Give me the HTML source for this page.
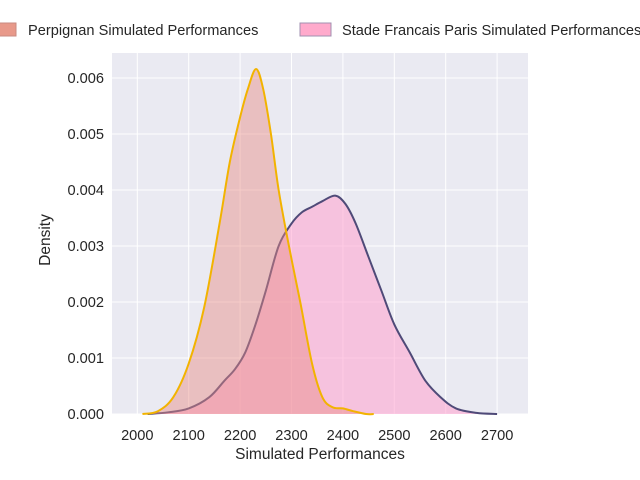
<!DOCTYPE html>
<html><head><meta charset="utf-8"><style>
body{margin:0;background:#fff;}
svg{display:block;font-family:"Liberation Sans",Arial,sans-serif;}
</style></head><body>
<svg id="chart" width="640" height="480" viewBox="0 0 640 480" xmlns="http://www.w3.org/2000/svg">
<rect x="112" y="53" width="416" height="361" fill="#eaeaf2"/>
<g id="grid"></g>
<g id="marks"></g>
<g id="ticks"></g>
<text x="320" y="459" text-anchor="middle" font-size="15.5" fill="#262626">Simulated Performances</text>
<text x="50" y="240" text-anchor="middle" font-size="15.5" fill="#262626" transform="rotate(-90 50 240)">Density</text>
<g>
<rect x="-12" y="23" width="28" height="13" fill="#e8998a" stroke="#c98a80"/>
<text x="28" y="35" font-size="14.6" fill="#262626">Perpignan Simulated Performances</text>
<rect x="300" y="23" width="31" height="13" fill="#ffaacc" stroke="#a090b0"/>
<text x="342" y="35" font-size="14.6" fill="#262626">Stade Francais Paris Simulated Performances</text>
</g>
</svg>
<script>
const xTicks=[2000,2100,2200,2300,2400,2500,2600,2700];
const yTicks=[0,0.001,0.002,0.003,0.004,0.005,0.006];
const yTickLabels=["0.000","0.001","0.002","0.003","0.004","0.005","0.006"];
const perpX=[2010,2040,2070,2100,2130,2160,2180,2200,2215,2231,2245,2260,2275,2295,2317,2340,2360,2380,2400,2420,2445,2460];
const perpY=[0,0.00005,0.0003,0.0009,0.0019,0.0034,0.0045,0.0053,0.0058,0.00616,0.0058,0.0050,0.0040,0.0030,0.0020,0.0009,0.0003,0.00012,0.0001,0.00005,0,0];
const stadeX=[2020,2060,2100,2140,2170,2190,2210,2230,2250,2275,2300,2320,2340,2360,2385,2405,2425,2450,2475,2500,2530,2560,2590,2620,2660,2700];
const stadeY=[0,0.00003,0.0001,0.0003,0.0006,0.0008,0.0011,0.0016,0.0022,0.0030,0.0034,0.0036,0.0037,0.0038,0.0039,0.00375,0.0034,0.0028,0.0022,0.0016,0.0011,0.0006,0.0003,0.0001,0.00002,0];
const NS="http://www.w3.org/2000/svg";
const xs=v=>137.3+(v-2000)*0.514;
const ys=v=>414-v*56000;
function mk(t,a,p){const e=document.createElementNS(NS,t);for(const k in a)e.setAttribute(k,a[k]);p.appendChild(e);return e;}
const grid=document.getElementById('grid'),ticks=document.getElementById('ticks'),marks=document.getElementById('marks');
xTicks.forEach(v=>{
 const l=mk('line',{x1:xs(v),x2:xs(v),y1:53,y2:414,stroke:'#fff','stroke-width':1},grid);
 
 
 const t=mk('text',{x:xs(v),y:440,'text-anchor':'middle','font-size':14.6,fill:'#262626'},ticks);
 t.textContent=v;
 
 
});
yTicks.forEach((v,i)=>{
 const l=mk('line',{x1:112,x2:528,y1:ys(v),y2:ys(v),stroke:'#fff','stroke-width':1},grid);
 
 
 const t=mk('text',{x:104,y:ys(v)+5,'text-anchor':'end','font-size':14.6,fill:'#262626'},ticks);
 t.textContent=yTickLabels[i];
 
 
});
function curve(X,Y){
 const p=X.map((x,i)=>[xs(x),ys(Y[i])]);
 let d='M'+p[0][0]+','+p[0][1];
 for(let i=0;i<p.length-1;i++){
  const p0=p[Math.max(0,i-1)],p1=p[i],p2=p[i+1],p3=p[Math.min(p.length-1,i+2)];
  const c1=[p1[0]+(p2[0]-p0[0])/6,p1[1]+(p2[1]-p0[1])/6];
  const c2=[p2[0]-(p3[0]-p1[0])/6,p2[1]-(p3[1]-p1[1])/6];
  d+=' C'+c1+' '+c2+' '+p2;
 }
 return d;
}
function series(X,Y,fill,stroke,name){
 const d=curve(X,Y);
 const f=mk('path',{d:d+' L'+xs(X[X.length-1])+','+ys(0)+' L'+xs(X[0])+','+ys(0)+'Z',fill:fill,stroke:'none'},marks);
 
 
 const l=mk('path',{d:d,fill:'none',stroke:stroke,'stroke-width':2},marks);
 
 
}
series(stadeX,stadeY,'rgba(255,160,205,0.55)','#4f4a78','stade-density');
series(perpX,perpY,'rgba(232,140,130,0.45)','#f2b300','perpignan-density');
</script>
</body></html>
